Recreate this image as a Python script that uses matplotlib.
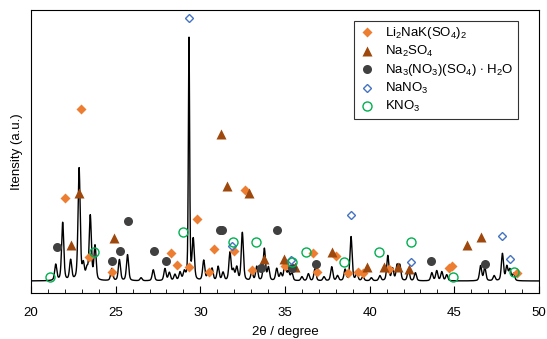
import numpy as np
import matplotlib.pyplot as plt
from matplotlib.ticker import MultipleLocator

plt.rcParams['font.family'] = ['Liberation Sans', 'DejaVu Sans']
plt.rcParams['mathtext.fontset'] = 'custom'
plt.rcParams['mathtext.rm'] = 'Liberation Sans'
plt.rcParams['mathtext.it'] = 'Liberation Sans'

# XRD pattern: peak list (2theta, height above background, FWHM)
peak_pos = [21.46, 21.87, 22.34, 22.84, 23.09, 23.30, 23.50, 23.78, 24.77, 25.22,
            25.70, 26.50, 27.22, 27.91, 28.17, 28.50, 28.80, 29.05, 29.33, 29.58,
            30.20, 30.46, 30.69, 31.05, 31.34, 31.75, 31.95, 32.15, 32.48, 33.04,
            33.33, 33.78, 34.02, 34.51, 34.75, 35.00, 35.20, 35.40, 36.00, 36.38,
            36.77, 37.30, 37.76, 38.10, 38.55, 38.90, 39.24, 39.60, 40.10, 40.60,
            41.07, 41.35, 41.62, 41.78, 42.29, 42.70, 43.67, 43.96, 44.26, 44.55,
            46.55, 46.80, 47.35, 47.84, 48.10, 48.28, 48.50]
peak_height = [16, 58, 20, 112, 15, 10, 64, 34, 12, 21,
               26, 3, 11, 12, 8, 6, 8, 8, 242, 40,
               20, 8, 12, 14, 8, 28, 10, 13, 48, 8,
               14, 32, 13, 12, 7, 19, 9, 8, 4, 7,
               12, 4, 14, 5, 11, 44, 7, 4, 3, 5,
               25, 12, 15, 15, 11, 8, 8, 10, 9, 6,
               15, 13, 5, 27, 14, 11, 7]
peak_fwhm = [0.15] * len(peak_pos)
peak_fwhm[18] = 0.09
background = 12

# phase markers (2theta, marker height)
li_x = [22.02, 22.95, 23.42, 24.80, 28.26, 28.60, 29.33, 29.79, 30.52, 30.83,
        31.99, 32.66, 33.04, 35.00, 36.63, 36.90, 38.00, 38.74, 39.33, 39.63,
        41.15, 44.66, 44.84, 48.72]
li_y = [95, 184, 36, 21, 40, 28, 26, 74, 21, 44,
        42, 103, 23, 27, 40, 21, 37, 20, 21, 20,
        24, 25, 27, 20]
na2so4_x = [22.39, 22.84, 24.91, 31.22, 31.59, 32.90, 33.76, 34.96, 35.61, 37.76,
            39.87, 40.83, 41.66, 42.35, 45.74, 46.56]
na2so4_y = [48, 100, 55, 159, 107, 100, 34, 34, 26, 41,
            26, 26, 26, 24, 48, 56]
na3_x = [21.53, 24.80, 25.23, 25.70, 27.27, 27.96, 31.14, 31.30, 33.59, 34.55,
         35.40, 36.82, 43.63, 46.79]
na3_y = [46, 32, 42, 72, 42, 32, 63, 63, 25, 63,
         25, 29, 32, 29]
nano3_x = [29.35, 31.85, 35.36, 38.89, 42.45, 47.84, 48.29]
nano3_y = [275, 47, 33, 78, 31, 57, 34]
kno3_x = [21.11, 23.72, 28.96, 31.91, 33.29, 35.43, 36.23, 38.50, 40.54, 42.46,
          44.93, 48.54]
kno3_y = [16, 41, 61, 51, 51, 31, 41, 31, 41, 51,
          16, 21]

x = np.arange(20, 50.001, 0.01)
y = np.full_like(x, background, dtype=float)
for p, h, w in zip(peak_pos, peak_height, peak_fwhm):
    g = np.exp(-4 * np.log(2) * (x - p) ** 2 / w ** 2)
    lo = 1 / (1 + 4 * (x - p) ** 2 / w ** 2)
    y += h * (0.6 * g + 0.4 * lo)

fig = plt.figure(figsize=(5.47, 3.39), dpi=100)
ax = fig.add_axes([0.0567, 0.1357, 0.9287, 0.8348])

ax.plot(x, y, color='black', lw=1.0, zorder=2)

ax.plot(li_x, li_y, 'D', ms=5, color='#ED7D31', mec='none', zorder=3,
        label='Li$_2$NaK(SO$_4$)$_2$')
ax.plot(na2so4_x, na2so4_y, '^', ms=6.5, color='#9E480E', mec='none', zorder=3,
        label='Na$_2$SO$_4$')
ax.plot(na3_x, na3_y, 'o', ms=6.5, color='#404040', mec='none', zorder=3,
        label='Na$_3$(NO$_3$)(SO$_4$) $\\cdot$ H$_2$O')
ax.plot(nano3_x, nano3_y, 'D', ms=4.5, mfc='none', mec='#4472C4', mew=1.0, zorder=3,
        label='NaNO$_3$')
ax.plot(kno3_x, kno3_y, 'o', ms=6.5, mfc='none', mec='#00B050', mew=1.0, zorder=3,
        label='KNO$_3$')

ax.set_xlim(20, 50)
ax.set_ylim(0, 283)
ax.xaxis.set_major_locator(MultipleLocator(5))
ax.xaxis.set_minor_locator(MultipleLocator(1))
ax.tick_params(axis='x', which='major', direction='in', length=5, labelsize=9.5, pad=10)
ax.tick_params(axis='x', which='minor', direction='in', length=3)
ax.set_yticks([])
ax.set_xlabel('2θ / degree', fontsize=9.5, labelpad=5)
ax.set_ylabel('Itensity (a.u.)', fontsize=9.5, labelpad=6)

leg = ax.legend(loc='upper left', bbox_to_anchor=(0.636, 0.962), fontsize=9.5,
                frameon=True, fancybox=False, edgecolor='black',
                handlelength=1.2, handletextpad=0.8, labelspacing=0.22,
                borderpad=0.35, borderaxespad=0)
leg.get_frame().set_linewidth(0.8)

fig.savefig('out.png', dpi=100)
